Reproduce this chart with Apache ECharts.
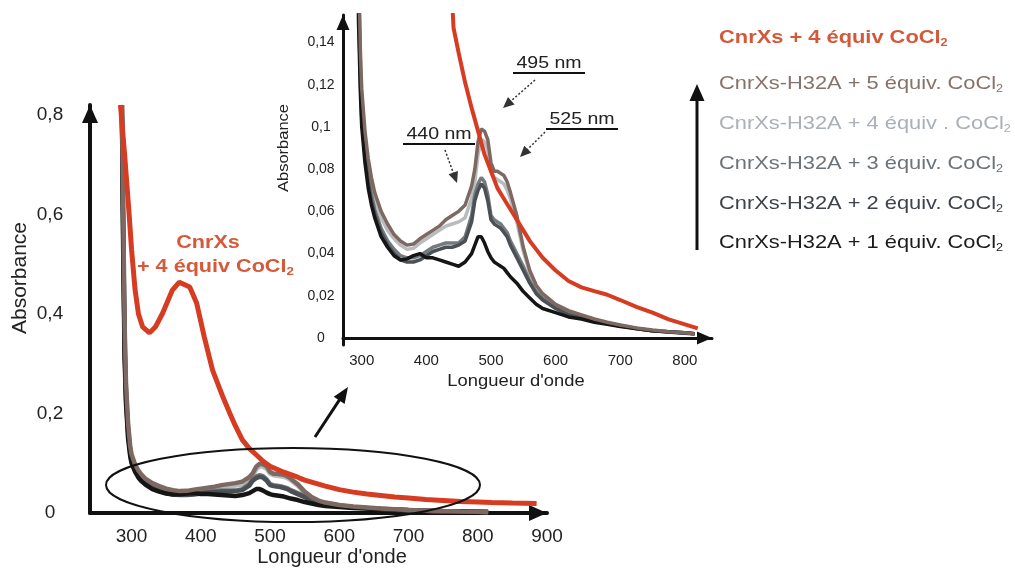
<!DOCTYPE html>
<html><head><meta charset="utf-8">
<script src="https://cdn.jsdelivr.net/npm/echarts@6/dist/echarts.min.js"></script>
<style>html,body{margin:0;padding:0;background:#fff}#c{width:1015px;height:570px}</style>
</head><body><div id="c"></div>
<script>
// ---------- data ----------
const wavelengths = [286,288,290,292,295,298,300,305,310,315,320,330,340,350,360,370,380,390,400,410,420,430,440,450,460,470,475,480,485,490,495,500,505,510,515,520,525,530,540,550,560,570,580,600,620,640,660,680,700,725,750,775,800,815];
const equiv5 = [0.82,0.6,0.38,0.26,0.18,0.135, 0.118,0.098,0.085,0.076,0.069, 0.060,0.054,0.049,0.046,0.044,0.0445,0.047,0.049, 0.051,0.053,0.056,0.058,0.060,0.063,0.072, 0.080,0.093,0.099,0.098,0.094,0.083, 0.079,0.079,0.078,0.077,0.074,0.069, 0.058,0.043,0.032,0.025,0.021, 0.016,0.013,0.011,0.009,0.0075,0.0062, 0.0048,0.0038,0.003,0.0025,0.002];
const equiv4 = [0.82,0.58,0.36,0.25,0.17,0.13, 0.113,0.094,0.081,0.072,0.066, 0.057,0.051,0.047,0.044,0.042,0.0425,0.045,0.047, 0.049,0.051,0.053,0.054,0.055,0.057,0.066, 0.074,0.087,0.094,0.093,0.089,0.079, 0.076,0.075,0.074,0.073,0.070,0.066, 0.055,0.041,0.031,0.024,0.020, 0.015,0.012,0.010,0.0085,0.007,0.0058, 0.0045,0.0035,0.0028,0.0023,0.002];
const equiv3 = [0.82,0.56,0.34,0.24,0.165,0.125, 0.108,0.090,0.077,0.068,0.061, 0.052,0.046,0.042,0.039,0.038,0.038,0.039,0.041, 0.043,0.044,0.045,0.045,0.045,0.048,0.058, 0.068,0.073,0.076,0.074,0.068,0.058, 0.056,0.055,0.054,0.052,0.050,0.046, 0.040,0.034,0.027,0.022,0.019, 0.015,0.012,0.010,0.0085,0.007,0.006, 0.0045,0.0035,0.003,0.0025,0.002];
const equiv2 = [0.82,0.55,0.33,0.23,0.16,0.12, 0.104,0.087,0.074,0.065,0.059, 0.050,0.044,0.040,0.037,0.036,0.036,0.037,0.039, 0.041,0.042,0.043,0.043,0.044,0.046,0.055, 0.065,0.070,0.073,0.071,0.065,0.056, 0.054,0.053,0.052,0.050,0.048,0.044, 0.038,0.032,0.026,0.021,0.018, 0.014,0.011,0.0095,0.008,0.0067,0.0057, 0.0044,0.0034,0.0028,0.0023,0.002];
const equiv1 = [0.82,0.52,0.31,0.22,0.15,0.115, 0.100,0.083,0.071,0.063,0.057, 0.048,0.043,0.039,0.037,0.0375,0.039,0.040,0.038, 0.038,0.037,0.036,0.035,0.034,0.036,0.040, 0.044,0.048,0.048,0.045,0.041,0.038, 0.036,0.035,0.034,0.033,0.031,0.029, 0.026,0.022,0.019,0.016,0.014, 0.012,0.010,0.009,0.0075,0.0065,0.0055, 0.0045,0.0035,0.003,0.0025,0.002];

const redWavelengths = [284,290,296,300,305,310,316,326,335,345,359,369,384,394,405,417,432,442,450,460,470,480,490,500,510,520,530,540,550,560,570,580,600,620,640,660,680,700,725,750,775,800,820,850,885];
const redMain  = [0.82,0.72,0.61,0.53,0.45,0.40,0.374,0.362,0.375,0.402,0.448,0.464,0.454,0.422,0.354,0.287,0.233,0.200,0.175,0.147,0.130,0.117,0.104,0.094,0.088,0.082,0.077,0.072,0.066,0.062,0.058,0.054,0.047,0.042,0.038,0.035,0.032,0.030,0.027,0.025,0.023,0.022,0.021,0.020,0.019];
const redInset = [0.82,0.72,0.61,0.53,0.45,0.40,0.374,0.362,0.375,0.402,0.448,0.464,0.454,0.422,0.354,0.287,0.210,0.147,0.135,0.121,0.109,0.098,0.087,0.079,0.071,0.066,0.061,0.056,0.051,0.046,0.042,0.038,0.032,0.027,0.024,0.0222,0.0205,0.018,0.0148,0.012,0.0088,0.0065,0.0046,null,null];

const mainXTicks = [300,400,500,600,700,800,900];
const mainYTicks = [0,0.2,0.4,0.6,0.8];
const insetXTicks = [300,400,500,600,700,800];
const insetYTicks = [0,0.02,0.04,0.06,0.08,0.1,0.12,0.14];

const seriesNames = [
  'CnrXs + 4 équiv CoCl2',
  'CnrXs-H32A + 5 équiv. CoCl2',
  'CnrXs-H32A + 4 équiv . CoCl2',
  'CnrXs-H32A + 3 équiv. CoCl2',
  'CnrXs-H32A + 2 équiv. CoCl2',
  'CnrXs-H32A + 1 équiv. CoCl2'
];
const legendMain = [
  'CnrXs + 4 équiv CoCl',
  'CnrXs-H32A + 5 équiv. CoCl',
  'CnrXs-H32A + 4 équiv . CoCl',
  'CnrXs-H32A + 3 équiv. CoCl',
  'CnrXs-H32A + 2 équiv. CoCl',
  'CnrXs-H32A + 1 équiv. CoCl'
];

// ---------- styles ----------
const FONT = '"Liberation Sans", Arial, sans-serif';
const colors = ['#d63c22', '#7d6862', '#b8bcbf', '#747b80', '#4b5055', '#151515'];
const textColors = ['#d4583a', '#87726b', '#a9b0b6', '#6c7378', '#3d434a', '#1c1c1c'];

function pairs(xs, ys) { return xs.map((x, i) => [x, ys[i]]); }
const grayData = [equiv5, equiv4, equiv3, equiv2, equiv1];
const comma = v => String(v).replace('.', ',');

function makeSeries(gi, redData, w) {
  const out = [];
  const order = [1, 2, 3, 4, 0];
  order.forEach(k => {
    out.push({
      name: seriesNames[k + 1], type: 'line', xAxisIndex: gi, yAxisIndex: gi,
      data: pairs(wavelengths, grayData[k]), showSymbol: false, symbol: 'none',
      lineStyle: { color: colors[k + 1], width: w }, itemStyle: { color: colors[k + 1] },
      silent: true, animation: false
    });
  });
  out.push({
    name: seriesNames[0], type: 'line', xAxisIndex: gi, yAxisIndex: gi,
    data: pairs(redWavelengths, redData), showSymbol: false, symbol: 'none', connectNulls: false,
    lineStyle: { color: colors[0], width: w + 0.5 }, itemStyle: { color: colors[0] },
    silent: true, animation: false
  });
  return out;
}

function axisLine(w, sw, sh) {
  return { show: true, lineStyle: { color: '#111', width: w }, symbol: ['none', 'triangle'], symbolSize: [sw, sh], symbolOffset: [0, -sh / 2] };
}

function arrowHead(x1, y1, x2, y2, len, wid, color) {
  const dx = x2 - x1, dy = y2 - y1, L = Math.hypot(dx, dy);
  const ux = dx / L, uy = dy / L, px = -uy, py = ux;
  const bx = x2 - ux * len, by = y2 - uy * len;
  return { type: 'polygon', z: 100, shape: { points: [[x2, y2], [bx + px * wid / 2, by + py * wid / 2], [bx - px * wid / 2, by - py * wid / 2]] }, style: { fill: color } };
}
function arrowLine(x1, y1, x2, y2, len, wid, color, lw, dash) {
  const dx = x2 - x1, dy = y2 - y1, L = Math.hypot(dx, dy);
  const ex = x2 - dx / L * len * 0.8, ey = y2 - dy / L * len * 0.8;
  return [
    { type: 'line', z: 100, shape: { x1, y1, x2: ex, y2: ey }, style: { stroke: color, lineWidth: lw, lineDash: dash || null } },
    arrowHead(x1, y1, x2, y2, len, wid, color)
  ];
}
function richLabel(x, y, main, color, size, weight, sx) {
  return {
    type: 'text', z: 100, x, y, scaleX: sx || 1,
    style: {
      text: '{m|' + main + '}{s|2}',
      textAlign: 'left', textVerticalAlign: 'middle', align: 'left', verticalAlign: 'middle',
      rich: {
        m: { fontSize: size, fontFamily: FONT, fontWeight: weight, fill: color },
        s: { fontSize: Math.round(size * 0.6), fontFamily: FONT, fontWeight: weight, fill: color, verticalAlign: 'bottom', padding: [Math.round(size * 0.55), 0, 0, 0] }
      }
    }
  };
}
function plainText(x, y, text, size, color, opts) {
  return Object.assign({
    type: 'text', z: 100, x, y,
    style: { text, font: (opts && opts.weight ? opts.weight + ' ' : '') + size + 'px ' + FONT, fill: color,
      textAlign: 'center', textVerticalAlign: 'middle', align: 'center', verticalAlign: 'middle' }
  }, opts && opts.el ? opts.el : {});
}

const graphics = [];
// axis titles
graphics.push(plainText(20, 278, 'Absorbance', 21, '#222', { el: { rotation: Math.PI / 2 } }));
graphics.push(plainText(332, 557, "Longueur d'onde", 20, '#222'));
graphics.push(plainText(284, 148, 'Absorbance', 15, '#222', { el: { rotation: Math.PI / 2, scaleX: 1.1 } }));
graphics.push(plainText(516, 381, "Longueur d'onde", 17, '#222', { el: { scaleX: 1.08 } }));
// main annotation
graphics.push(plainText(208, 243, 'CnrXs', 18, '#d65a3a', { weight: 'bold', el: { scaleX: 1.2 } }));
graphics.push(richLabel(137, 267, '+ 4 équiv CoCl', '#d65a3a', 18, 'bold', 1.2));
// ellipse
graphics.push({ type: 'ellipse', z: 100, shape: { cx: 293, cy: 485, rx: 187, ry: 37 }, style: { fill: 'none', stroke: '#111', lineWidth: 2 } });
// arrow toward inset
graphics.push(...arrowLine(315, 437, 348, 387, 16, 13, '#111', 3));
// inset peak annotations
function underlined(x, y, text) {
  return [
    plainText(x, y, text, 17, '#222', { el: { scaleX: 1.15 } }),
    { type: 'line', z: 100, shape: { x1: x - 36, y1: y + 10, x2: x + 36, y2: y + 10 }, style: { stroke: '#111', lineWidth: 2 } }
  ];
}
graphics.push(...underlined(439, 134, '440 nm'));
graphics.push(...underlined(549, 63, '495 nm'));
graphics.push(...underlined(582, 119, '525 nm'));
graphics.push(...arrowLine(445, 150, 457, 183, 11, 10, '#333', 1.5, [2, 2]));
graphics.push(...arrowLine(535, 80, 503, 108, 11, 10, '#333', 1.5, [2, 2]));
graphics.push(...arrowLine(545, 132, 520, 157, 11, 10, '#333', 1.5, [2, 2]));
// legend texts
const legendY = [38, 84, 124, 164, 204, 243];
legendMain.forEach((t, i) => graphics.push(richLabel(719, legendY[i], t, textColors[i], 19, i === 0 ? 'bold' : 'normal', 1.15)));
// up arrow next to legend
graphics.push(...arrowLine(697, 250, 697, 84, 17, 15, '#111', 3));

const chart = echarts.init(document.getElementById('c'), null, { renderer: 'canvas' });
chart.setOption({
  animation: false,
  backgroundColor: '#fff',
  textStyle: { fontFamily: FONT },
  grid: [
    { left: 90, top: 105, width: 457, height: 408, containLabel: false },
    { left: 343, top: 15, width: 369, height: 330, containLabel: false }
  ],
  xAxis: [
    { gridIndex: 0, type: 'value', min: 240, max: 900, axisLine: axisLine(4, 16, 18), axisTick: { show: false }, splitLine: { show: false },
      axisLabel: { customValues: mainXTicks, fontSize: 19, color: '#222', margin: 14, fontFamily: FONT } },
    { gridIndex: 1, type: 'value', min: 271, max: 842, axisLine: axisLine(3, 13, 15), axisTick: { show: false }, splitLine: { show: false },
      axisLabel: { customValues: insetXTicks, fontSize: 15, color: '#222', margin: 8, fontFamily: FONT } }
  ],
  yAxis: [
    { gridIndex: 0, type: 'value', min: 0, max: 0.82, axisLine: axisLine(4, 16, 18), axisTick: { show: false }, splitLine: { show: false },
      axisLabel: { customValues: mainYTicks, formatter: comma, fontSize: 19, color: '#222', margin: 40, align: 'center', fontFamily: FONT } },
    { gridIndex: 1, type: 'value', min: -0.0033, max: 0.153, axisLine: axisLine(3, 13, 15), axisTick: { show: false }, splitLine: { show: false },
      axisLabel: { customValues: insetYTicks, formatter: comma, fontSize: 14, color: '#222', margin: 22, align: 'center', fontFamily: FONT } }
  ],
  series: [...makeSeries(0, redMain, 4.5), ...makeSeries(1, redInset, 3.5)],
  graphic: graphics
});
</script></body></html>
